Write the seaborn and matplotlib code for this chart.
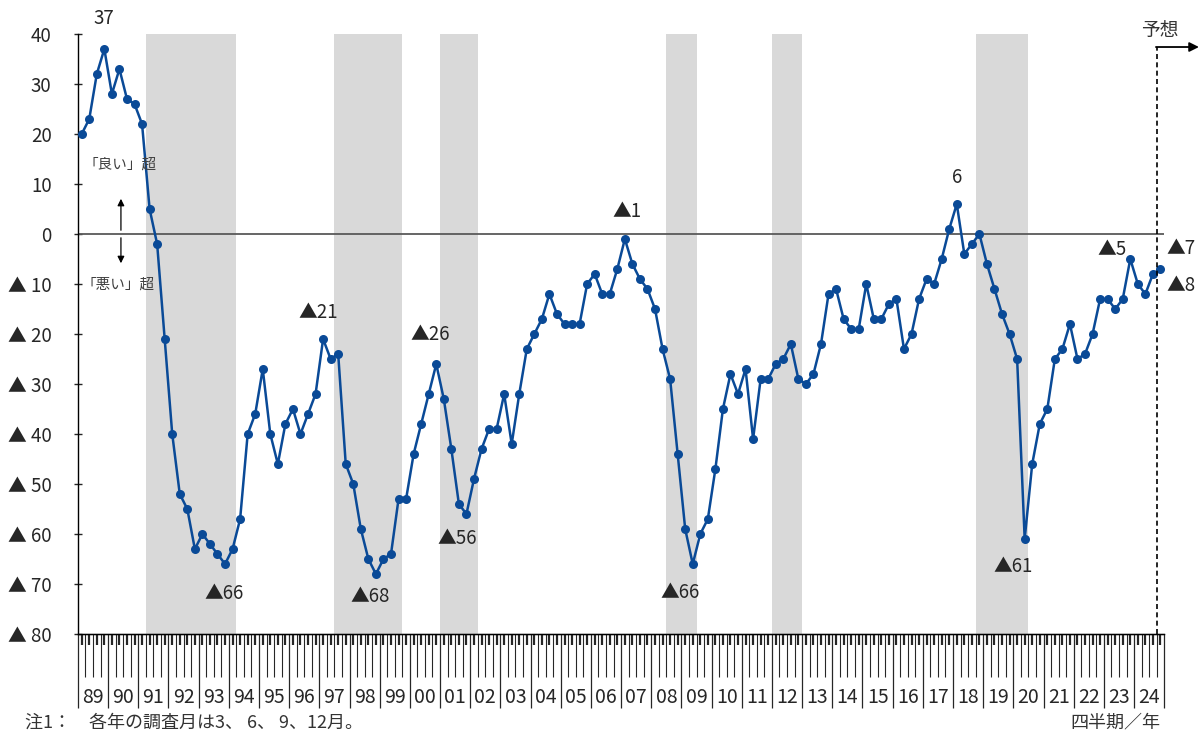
import numpy as np
import seaborn as sns
import matplotlib.pyplot as plt

# 業況判断DI（四半期, 1989Q1〜2024Q4, 最後は予想）
di_89_99 = [20, 23, 32, 37, 28, 33, 27, 26, 22, 5, -2, -21,
            -40, -52, -55, -63, -60, -62, -64, -66, -63, -57, -40, -36,
            -27, -40, -46, -38, -35, -40, -36, -32, -21, -25, -24, -46,
            -50, -59, -65, -68, -65, -64, -53, -53]
di_00_09 = [-44, -38, -32, -26, -33, -43, -54, -56, -49, -43, -39, -39,
            -32, -42, -32, -23, -20, -17, -12, -16, -18, -18, -18, -10,
            -8, -12, -12, -7, -1, -6, -9, -11, -15, -23, -29, -44,
            -59, -66, -60, -57]
di_10_19 = [-47, -35, -28, -32, -27, -41, -29, -29, -26, -25, -22, -29,
            -30, -28, -22, -12, -11, -17, -19, -19, -10, -17, -17, -14,
            -13, -23, -20, -13, -9, -10, -5, 1, 6, -4, -2, 0,
            -6, -11, -16, -20]
di_20_24 = [-25, -61, -46, -38, -35, -25, -23, -18, -25, -24, -20, -13,
            -13, -15, -13, -5, -10, -12, -8, -7]
di = di_89_99 + di_00_09 + di_10_19 + di_20_24

years = [f'{y % 100:02d}' for y in range(1989, 2025)]
# 景気後退期（四半期インデックスの開始・終了）
recession_start = [9, 34, 48, 78, 92, 119]
recession_end = [21, 43, 53, 82, 96, 126]
yticks = [40, 30, 20, 10, 0, -10, -20, -30, -40, -50, -60, -70, -80]

# 注記ラベル (テキスト, 四半期位置, 値)
notes = [('37', 3.45, 43.2), ('▲66', 19.4, -71.8), ('▲21', 31.8, -15.6),
         ('▲68', 38.7, -72.4), ('▲26', 46.7, -20.0), ('▲56', 50.3, -60.8),
         ('▲1', 72.8, 4.6), ('▲66', 79.8, -71.6), ('6', 116.6, 11.4),
         ('▲61', 124.0, -66.4), ('▲5', 137.1, -3.0)]

sns.set_style('white')
plt.rcParams['font.family'] = ['Noto Sans CJK JP', 'DejaVu Sans']

fig = plt.figure(figsize=(11.99, 7.33), dpi=100)
ax = fig.add_axes([0.065, 0.135, 0.906, 0.8186])

n = len(di)
xq = np.arange(n) + 0.5

for a, b in zip(recession_start, recession_end):
    ax.axvspan(a, b, color='#D9D9D9', lw=0, zorder=0)

ax.axhline(0, color='#595959', lw=1.3, zorder=1)

sns.lineplot(x=xq, y=di, ax=ax, color='#0A4A97', lw=1.8, marker='o',
             markersize=6.5, markeredgewidth=0, zorder=3)

ax.set_xlim(0, n)
ax.set_ylim(-80, 40)
ax.set_yticks(yticks)
ax.set_yticklabels([str(v) if v >= 0 else f'▲ {-v}' for v in yticks], fontsize=13.5)
ax.tick_params(axis='y', direction='inout', length=6, width=1, pad=16, left=True)

for s in ['top', 'right']:
    ax.spines[s].set_visible(False)
for s in ['left', 'bottom']:
    ax.spines[s].set_color('black')
    ax.spines[s].set_linewidth(1)

# 年境界（長い目盛）と四半期境界
ax.set_xticks(np.arange(0, n + 1, 4))
ax.set_xticks(np.arange(0, n + 1), minor=True)
ax.tick_params(axis='x', which='major', direction='out', length=53, width=0.9,
               labelbottom=False, bottom=True)
ax.tick_params(axis='x', which='minor', direction='out', length=31, width=0.8,
               bottom=True)

sec1 = ax.secondary_xaxis('bottom')
sec1.set_xticks(xq)
sec1.tick_params(direction='out', length=8, width=1.6, labelbottom=False)

sec2 = ax.secondary_xaxis('bottom')
sec2.set_xticks(np.arange(2, n, 4))
sec2.set_xticklabels(years, fontsize=14)
sec2.tick_params(length=0, pad=38)

for txt, x, y in notes:
    ax.text(x, y, txt, ha='center', va='center', fontsize=13.5)

ax.text(5.6, 13.8, '「良い」超', ha='center', va='center', fontsize=10.5, color='#404040')
ax.text(5.3, -10.2, '「悪い」超', ha='center', va='center', fontsize=10.5, color='#404040')
ax.annotate('', xy=(5.7, 7.6), xytext=(5.7, 0.2),
            arrowprops=dict(arrowstyle='-|>', color='black', lw=0.9, mutation_scale=10))
ax.annotate('', xy=(5.7, -6.4), xytext=(5.7, -0.2),
            arrowprops=dict(arrowstyle='-|>', color='black', lw=0.9, mutation_scale=10))

# 予想
ax.plot([143, 143], [-80, 37.4], color='black', lw=1.2, ls=(0, (3, 2)),
        clip_on=False, zorder=4)
ax.annotate('', xy=(148.6, 37.4), xytext=(142.9, 37.4), annotation_clip=False,
            arrowprops=dict(arrowstyle='-|>', color='black', lw=1.3, mutation_scale=14,
                            shrinkA=0, shrinkB=0))
ax.text(143.4, 40.8, '予想', ha='center', va='center', fontsize=13.5, color='#333333')
ax.text(144.3, -2.8, '▲7', ha='left', va='center', fontsize=13.5)
ax.text(144.3, -10.2, '▲8', ha='left', va='center', fontsize=13.5)

fig.text(0.021, 0.014, '注1：　各年の調査月は3、 6、 9、12月。', fontsize=13,
         color='#333333', ha='left', va='center')
fig.text(0.968, 0.014, '四半期／年', fontsize=13, color='#333333',
         ha='right', va='center')

fig.savefig('out.png', dpi=100)
